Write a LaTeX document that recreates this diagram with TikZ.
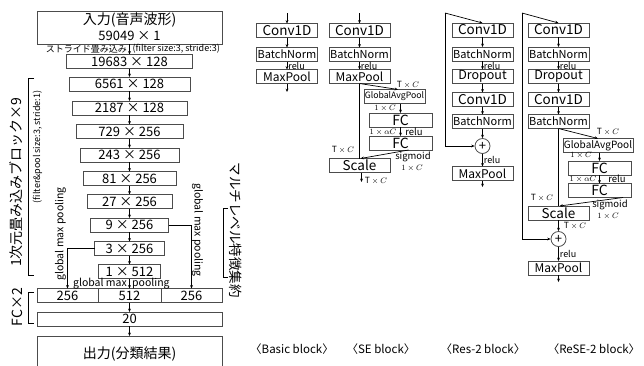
\documentclass[tikz,border=0pt]{standalone}
\usepackage{fontspec}
\setmainfont{Noto Sans CJK JP}
\usetikzlibrary{arrows.meta}

\begin{document}
\begin{tikzpicture}[
  x=1pt, y=-1pt,
  >={Stealth[length=3.4pt,width=2.8pt]},
  box/.style={draw=black!70, line width=0.8pt, rectangle,
              minimum height=14pt, inner sep=0pt,
              outer sep=0pt, anchor=center,
              font=\fontsize{13}{13}\selectfont},
  blk/.style={box, minimum width=61pt},
  arr/.style={->, line width=0.7pt},
  ln/.style={line width=0.7pt},
  lbl/.style={font=\fontsize{9.5}{9.5}\selectfont, inner sep=0pt},
  actlbl/.style={font=\fontsize{9}{9}\selectfont, inner sep=0pt,
                 midway, anchor=west, xshift=1pt},
  gmp/.style={font=\fontsize{10.5}{11}\selectfont, inner sep=0.5pt},
  small/.style={font=\fontsize{9}{9}\selectfont, inner sep=0.5pt},
  dim/.style={font=\fontsize{8.5}{9}\selectfont, inner sep=0.5pt},
  side/.style={font=\fontsize{14}{14}\selectfont, inner sep=0pt},
  captxt/.style={font=\fontsize{11.5}{12}\selectfont},
  plus/.style={draw=black!70, line width=0.8pt, circle,
               minimum size=15pt, inner sep=0pt,
               font=\fontsize{13}{13}\selectfont},
]
\useasboundingbox (0,0) rectangle (644,365);
\def\cx{129.5}  % centre of the main column
% Input
\node[box, minimum width=185pt, minimum height=33pt] (inp) at (\cx,27.5) {};
\node[side] (inpt) at (\cx,19.5) {入力(音声波形)};
\node[font=\fontsize{13}{13}\selectfont, inner sep=0pt] (inpn) at (\cx,36) {59049 × 1};
\node[small, anchor=east] (strj) at (127.5,49) {ストライド畳み込み};
\node[small, anchor=west] (strf) at (132,49) {(filter size:3, stride:3)};
% Conv stack
\foreach \n/\lab/\w/\y in {c0/19683 × 128/126/61.5, c1/6561 × 128/121/84,
    c2/2187 × 128/115/108, c3/729 × 256/107/131.5, c4/243 × 256/99/155,
    c5/81 × 256/93/178.5, c6/27 × 256/85/201.5, c7/9 × 256/78/225,
    c8/3 × 256/70/248.5, c9/1 × 512/62/271.5}
  \node[box, minimum width=\w pt] (\n) at (\cx,\y) {\lab};
\draw[arr] (inp.south) -- (c0.north);
\foreach \a/\b in {c0/c1, c1/c2, c2/c3, c3/c4, c4/c5, c5/c6, c6/c7, c7/c8, c8/c9}
  \draw[arr] (\a.south) -- (\b.north);
% FC layers and output
\node[box, minimum width=61pt] (f1) at (67.5,295.5) {256};
\node[box, minimum width=63pt] (f2) at (\cx,295.5) {512};
\node[box, minimum width=61pt] (f3) at (191.5,295.5) {256};
\node[box, minimum width=185pt] (f20) at (\cx,319) {20};
\node[box, minimum width=185pt, minimum height=40pt] (out) at (\cx,356) {};
\node[side] (outt) at (\cx,354) {出力(分類結果)};
\draw[arr] (c9.south) -- (f2.north);
\draw[arr] (f2.south) -- (f20.north);
\draw[arr] (f20.south) -- (out.north);
% Multi-level aggregation
\draw[arr] (c7.east) -| (f3.north);
\draw[arr] (c8.west) -| (f1.north);
\node[gmp, rotate=90] (gl) at (60.5,234) {global max pooling};
\node[gmp, rotate=-90] (gr) at (197.5,230) {global max pooling};
\node[gmp, anchor=east] (gm1) at (127.5,283.5) {global max};
\node[gmp, anchor=west] (gm2) at (131.5,283.5) {pooling};
% Side labels and brackets
\draw[ln] (34,78) -- (28,78) -- (28,275) -- (34,275);
\draw[ln] (34,292) -- (28,292) -- (28,323) -- (34,323);
\draw[ln] (228,208) -- (223,208) -- (223,277) -- (228,277);
\node[side, rotate=90] (blkt) at (16,182) {1次元畳み込みブロック×9};
\node[small, rotate=90] (blkp) at (37.5,147) {(filter\&pool size:3, stride:1)};
\node[side, rotate=90] (fct) at (17,307) {FC×2};
\node[side, font=\fontsize{13.5}{14}\selectfont, rotate=-90] (mlt) at (235.5,230) {マルチレベル特徴集約};
% Basic block and SE block
\foreach \k/\x in {b/287, s/359.5} {
  \coordinate (\k0) at (\x,13);
  \node[blk, font=\fontsize{13.5}{13.5}\selectfont] (\k1) at (\x,30.5) {Conv1D};
  \node[blk, font=\fontsize{11}{11}\selectfont] (\k2) at (\x,54.5) {BatchNorm};
  \node[blk, font=\fontsize{12}{12}\selectfont] (\k3) at (\x,76.5) {MaxPool};
  \draw[arr] (\k0) -- (\k1.north);
  \draw[arr] (\k1.south) -- (\k2.north);
  \draw[arr] (\k2.south) -- (\k3.north) node[actlbl] {relu};
}
\coordinate (bout) at (287,92);
\draw[arr] (b3.south) -- (bout);
% SE branch
\node[blk, font=\fontsize{8.7}{9}\selectfont] (sgap) at (394.5,96.5) {GlobalAvgPool};
\node[blk, minimum width=63pt, font=\fontsize{14}{14}\selectfont] (sfc1) at (400.5,120) {FC};
\node[blk, minimum width=63pt, font=\fontsize{14}{14}\selectfont] (sfc2) at (400.5,143) {FC};
\node[blk, font=\fontsize{13.5}{13.5}\selectfont] (ssc) at (359.5,165.5) {Scale};
\coordinate (sout) at (361.5,182);
\draw[ln] (s3.south) -- (ssc.north);
\draw[arr] (s3.south) -- ([xshift=3.5pt]sgap.north);
\draw[arr] (sgap.south -| sfc1.north) -- (sfc1.north);
\draw[arr] (sfc1.south) -- (sfc2.north);
\draw[arr] ([xshift=8pt]sfc2.south) -- ([xshift=1pt]ssc.north);
\draw[arr] (ssc.south -| sout) -- (sout);
\node[dim] (st1) at (408,85) {$\mathrm{T}\times C$};
\node[dim] (st2) at (385,108) {$1\times C$};
\node[dim] (st3) at (383,132) {$1\times\alpha C$};
\node[lbl] (st4) at (414,132) {relu};
\node[lbl] (st5) at (413,157) {sigmoid};
\node[dim] (st6) at (412,168) {$1\times C$};
\node[dim] (st7) at (343,150) {$\mathrm{T}\times C$};
\node[dim] (st8) at (376,181) {$\mathrm{T}\times C$};
% Res-2 block and ReSE-2 block
\foreach \k/\x/\s in {r/482.5/445, e/558.5/522} {
  \coordinate (\k0) at (\s,13);
  \node[blk, font=\fontsize{13.5}{13.5}\selectfont] (\k1) at (\x,30) {Conv1D};
  \node[blk, font=\fontsize{11}{11}\selectfont] (\k2) at (\x,54) {BatchNorm};
  \node[blk, font=\fontsize{12.5}{12.5}\selectfont] (\k3) at (\x,76.5) {Dropout};
  \node[blk, font=\fontsize{13.5}{13.5}\selectfont] (\k4) at (\x,99.5) {Conv1D};
  \node[blk, font=\fontsize{11}{11}\selectfont] (\k5) at (\x,121.5) {BatchNorm};
  \draw[arr] (\k0) -- (\k1.north);
  \draw[arr] (\k1.south) -- (\k2.north);
  \draw[arr] (\k2.south) -- (\k3.north) node[actlbl, yshift=-0.8pt] {relu};
  \draw[arr] (\k3.south) -- (\k4.north);
  \draw[arr] (\k4.south) -- (\k5.north);
}
\node[plus] (rp) at (482.5,146) {+};
\node[blk, font=\fontsize{12}{12}\selectfont] (r6) at (482.5,173.5) {MaxPool};
\coordinate (rout) at (482.5,187);
\draw[arr] (r0) |- (rp.west);
\draw[arr] (r5.south) -- (rp.north);
\draw[arr] (rp.south) -- (r6.north) node[actlbl] {relu};
\draw[arr] (r6.south) -- (rout);
% ReSE branch
\node[blk, minimum width=70pt, font=\fontsize{10}{10}\selectfont] (egap) at (598,145.5) {GlobalAvgPool};
\node[blk, minimum width=63pt, font=\fontsize{14}{14}\selectfont] (efc1) at (599.5,168) {FC};
\node[blk, minimum width=63pt, font=\fontsize{14}{14}\selectfont] (efc2) at (599.5,190.5) {FC};
\node[blk, font=\fontsize{13.5}{13.5}\selectfont] (esc) at (558.5,213) {Scale};
\node[plus] (ep) at (558.5,239) {+};
\node[blk, font=\fontsize{12}{12}\selectfont] (e6) at (558.5,268) {MaxPool};
\coordinate (eout) at (558.5,282);
\draw[ln] (e5.south) -- (esc.north);
\draw[arr] (e5.south) -- (egap.north);
\draw[arr] (egap.south -| efc1.north) -- (efc1.north);
\draw[arr] (efc1.south) -- (efc2.north);
\draw[arr] ([xshift=-8pt]efc2.south east) -- ([xshift=1pt]esc.north);
\draw[arr] (esc.south) -- (ep.north);
\draw[arr] (e0) |- (ep.west);
\draw[arr] (ep.south) -- (e6.north) node[actlbl] {relu};
\draw[arr] (e6.south) -- (eout);
\node[dim] (et1) at (608,132) {$\mathrm{T}\times C$};
\node[dim] (et2) at (581,155.5) {$1\times C$};
\node[dim] (et3) at (583,179) {$1\times\alpha C$};
\node[lbl] (et4) at (617,179) {relu};
\node[lbl] (et5) at (610,205) {sigmoid};
\node[dim] (et6) at (608,216) {$1\times C$};
\node[dim] (et7) at (542,198) {$\mathrm{T}\times C$};
\node[dim] (et8) at (575,226) {$\mathrm{T}\times C$};
% Captions
\node[captxt] (capb) at (292,349) {〈Basic block〉};
\node[captxt] (caps) at (381,349) {〈SE block〉};
\node[captxt] (capr) at (483,349) {〈Res-2 block〉};
\node[captxt] (cape) at (594,349) {〈ReSE-2 block〉};
\end{tikzpicture}
\end{document}
